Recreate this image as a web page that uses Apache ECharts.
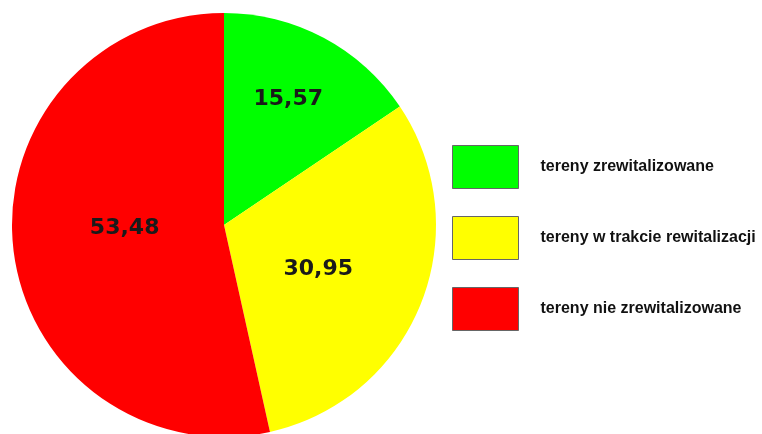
<!DOCTYPE html>
<html>
<head>
<meta charset="utf-8">
<script src="https://cdn.jsdelivr.net/npm/echarts@6/dist/echarts.min.js"></script>
<style>html,body{margin:0;padding:0;background:#fff}#c{width:762px;height:434px}</style>
</head>
<body>
<div id="c"></div>
<script>
const categories = ['tereny zrewitalizowane', 'tereny w trakcie rewitalizacji', 'tereny nie zrewitalizowane'];
const values = [15.57, 30.95, 53.48];
const colors = ['#00ff00', '#ffff00', '#ff0000'];
const labelShift = [[13, -30], [-7, 4], [9, -9]];

const chart = echarts.init(document.getElementById('c'), null, {renderer: 'canvas'});
chart.setOption({
  backgroundColor: '#ffffff',
  animation: false,
  legend: {
    orient: 'vertical',
    left: 447,
    top: 140,
    itemWidth: 66,
    itemHeight: 43,
    itemGap: 27,
    icon: 'rect',
    selectedMode: false,
    itemStyle: {borderColor: '#666', borderWidth: 1},
    textStyle: {fontFamily: 'Liberation Sans, Arial, sans-serif', fontWeight: 'bold', fontSize: 16, color: '#111', padding: [0, 0, 0, 17]},
    data: categories
  },
  series: [{
    type: 'pie',
    center: [224, 225],
    radius: 212,
    startAngle: 90,
    clockwise: true,
    silent: true,
    label: {
      show: true,
      position: 'inside',
      fontFamily: 'DejaVu Sans, Verdana, sans-serif',
      fontWeight: 'bold',
      fontSize: 22,
      color: '#1a1a1a',
      formatter: p => String(p.value).replace('.', ',')
    },
    labelLine: {show: false},
    labelLayout: p => ({dx: labelShift[p.dataIndex][0], dy: labelShift[p.dataIndex][1]}),
    data: categories.map((n, i) => ({name: n, value: values[i], itemStyle: {color: colors[i]}}))
  }]
});
</script>
</body>
</html>
